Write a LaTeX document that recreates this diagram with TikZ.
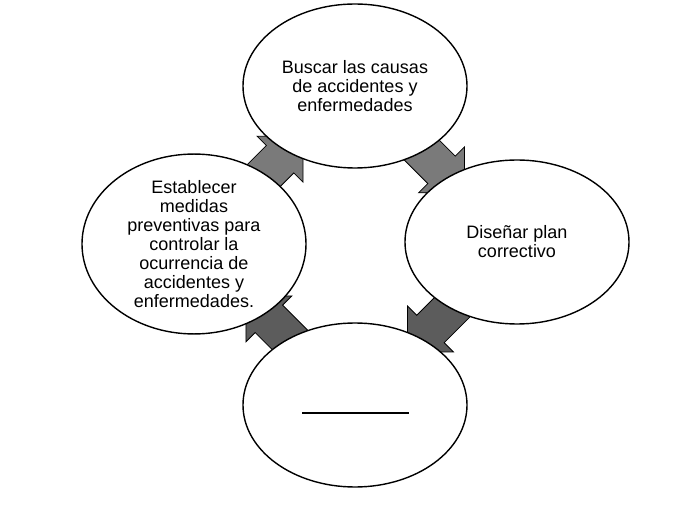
\documentclass[tikz,border=0pt]{standalone}
\usepackage{fontspec}
\setmainfont{Liberation Sans}
\usetikzlibrary{shapes.geometric,shapes.arrows,calc,backgrounds}
\tikzset{
    etapa/.style={ellipse, draw, line width=1.4pt, fill=white, inner sep=0pt,
        minimum width=224pt, minimum height=164pt, align=center,
        font=\fontsize{18}{19}\selectfont},
    flecha/.style={single arrow, draw, line width=0.8pt, fill=black!52,
        inner sep=0pt, inner ysep=19pt, minimum height=84pt,
        single arrow head extend=13pt}
}

\begin{document}
\begin{tikzpicture}[x=1pt, y=-1pt]
    \useasboundingbox (0,0) rectangle (675,521);
    \node[etapa] (buscar) at (355,86) {Buscar las causas\\de accidentes y\\enfermedades};
    \node[etapa] (disenar) at (517,242) {Diseñar plan\\correctivo};
    \node[etapa] (vacio) at (355,405) {};
    \node[etapa] (establecer) at (194,244) {Establecer\\medidas\\preventivas para\\controlar la\\ocurrencia de\\accidentes y\\enfermedades.};
    \draw[line width=1.2pt] ([xshift=-53pt, yshift=-8pt]vacio.center) -- ([xshift=54pt, yshift=-8pt]vacio.center);
    \begin{scope}[on background layer]
        \node[flecha, rotate=45] (f1) at ($(establecer)!0.45!(buscar)$) {};
        \node[flecha, rotate=-45] (f2) at ($(buscar)!0.45!(disenar)$) {};
        \node[flecha, rotate=-135, fill=black!64] (f3) at ($(disenar)!0.45!(vacio)$) {};
        \node[flecha, rotate=135, fill=black!64] (f4) at ($(vacio)!0.45!(establecer)$) {};
    \end{scope}
\end{tikzpicture}
\end{document}
